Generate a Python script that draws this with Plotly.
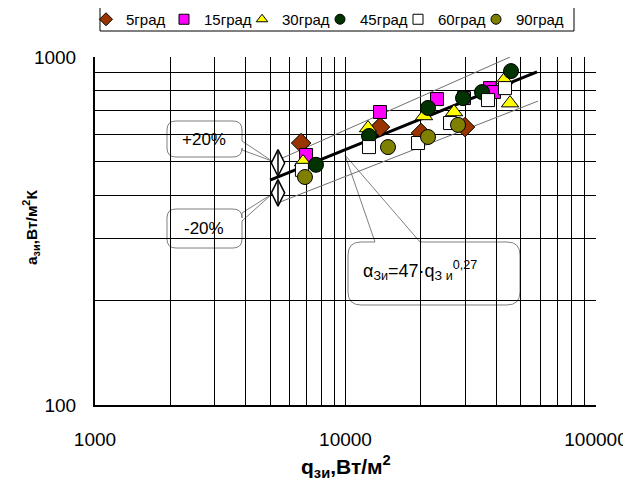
import plotly.graph_objects as go

# ---------------- data ----------------
series_names = ["5град", "15град", "30град", "45град", "60град", "90град"]

q_5 = [6650, 13730, 20020, 29990]
a_5 = [566, 629, 605, 629]

q_15 = [6960, 13730, 23190, 29720, 37740, 39160]
a_15 = [523, 695, 757, 762, 814, 793]

q_30 = [6770, 12300, 20580, 27120, 43000, 45370]
a_30 = [499, 625, 677, 695, 859, 737]

q_45 = [7625, 12410, 21350, 29450, 35060, 45790]
a_45 = [490, 593, 714, 762, 793, 911]

q_60 = [6700, 12410, 19480, 26140, 37060, 43320]
a_60 = [474, 551, 566, 646, 752, 814]

q_90 = [6890, 14780, 21350, 28130]
a_90 = [452, 551, 589, 638]

# correlation line and +/-20 % band
fit_q = [5000, 58150]
fit_a = [443, 906]
upper_q = [5380, 45400]
upper_a = [506, 1000]
lower_q = [5480, 58700]
lower_a = [383, 747]
band_marker_q = [5377, 5377]
band_marker_a = [496, 407]

# ticks
x_tickvals = [1000, 10000, 100000]
x_ticktext = ["1000", "10000", "100000"]
x_minorvals = [2000, 3000, 4000, 5000, 6000, 7000, 8000, 9000,
               20000, 30000, 40000, 50000, 60000, 70000, 80000, 90000]
y_tickvals = [100, 1000]
y_ticktext = ["100", "1000"]
y_minorvals = [200, 300, 400, 500, 600, 700, 800, 900]

# ---------------- styling ----------------
FONT = "Liberation Sans, Arial, sans-serif"
OFF = 8                      # page body margin of the browser
W, H = 631 - OFF, 483 - OFF
PL, PR, PT, PB = 95, 596, 57, 405   # plot area in window pixels
L, T = PL - OFF, PT - OFF
R, B = W - (PR - OFF), H - (PB - OFF)
PW, PH = PR - PL, PB - PT


def px(x):
    return (x - PL) / PW


def py(y):
    return (PB - y) / PH


def callout(x0, y0, x1, y1, r, edge, p0, p1, tip):
    d = "M {:.4f},{:.4f}".format(px(x0 + r), py(y0))

    def Lto(x, y):
        return " L {:.4f},{:.4f}".format(px(x), py(y))

    def Qto(cx, cy, x, y):
        return " Q {:.4f},{:.4f} {:.4f},{:.4f}".format(px(cx), py(cy), px(x), py(y))

    if edge == "top":
        d += Lto(p0, y0) + Lto(*tip) + Lto(p1, y0)
    d += Lto(x1 - r, y0) + Qto(x1, y0, x1, y0 + r)
    if edge == "right":
        d += Lto(x1, p0) + Lto(*tip) + Lto(x1, p1)
    d += Lto(x1, y1 - r) + Qto(x1, y1, x1 - r, y1)
    d += Lto(x0 + r, y1) + Qto(x0, y1, x0, y1 - r)
    d += Lto(x0, y0 + r) + Qto(x0, y0, x0 + r, y0) + " Z"
    return d


styles = [
    dict(symbol="diamond", color="#993300", size=15),
    dict(symbol="square", color="#FF00FF", size=13),
    dict(symbol="triangle-up", color="#FFFF00", size=15),
    dict(symbol="circle", color="#003300", size=15),
    dict(symbol="square", color="#FFFFFF", size=13),
    dict(symbol="circle", color="#808000", size=15),
]
data_q = [q_5, q_15, q_30, q_45, q_60, q_90]
data_a = [a_5, a_15, a_30, a_45, a_60, a_90]

fig = go.Figure()

# band and fit lines
fig.add_trace(go.Scatter(x=upper_q, y=upper_a, mode="lines",
                         line=dict(color="#707070", width=1), showlegend=False, hoverinfo="skip"))
fig.add_trace(go.Scatter(x=lower_q, y=lower_a, mode="lines",
                         line=dict(color="#707070", width=1), showlegend=False, hoverinfo="skip"))
fig.add_trace(go.Scatter(x=fit_q, y=fit_a, mode="lines",
                         line=dict(color="black", width=3), showlegend=False, hoverinfo="skip"))
fig.add_trace(go.Scatter(x=band_marker_q, y=band_marker_a, mode="markers",
                         marker=dict(symbol="diamond-tall", size=19, color="white",
                                     line=dict(color="black", width=1.5)),
                         showlegend=False, hoverinfo="skip"))
fig.add_trace(go.Scatter(x=band_marker_q, y=band_marker_a, mode="markers",
                         marker=dict(symbol="line-ns", size=16,
                                     line=dict(color="black", width=1.5)),
                         showlegend=False, hoverinfo="skip"))

# data series
for name, qv, av, st in zip(series_names, data_q, data_a, styles):
    fig.add_trace(go.Scatter(x=qv, y=av, mode="markers", name=name, showlegend=False,
                             marker=dict(symbol=st["symbol"], size=st["size"], color=st["color"],
                                         line=dict(color="black", width=1))))
# legend entries (smaller symbols)
for name, st in zip(series_names, styles):
    fig.add_trace(go.Scatter(x=[None], y=[None], mode="markers", name=name,
                             marker=dict(symbol=st["symbol"], size=10, color=st["color"],
                                         line=dict(color="black", width=1))))
# empty spacer entry so that the last legend text is not clipped
fig.add_trace(go.Scatter(x=[None], y=[None], mode="markers", name=" ",
                         marker=dict(size=1, color="rgba(0,0,0,0)"), hoverinfo="skip"))

shapes = [
    dict(type="path", xref="paper", yref="paper", layer="between",
         path=callout(167, 121, 242, 157, 9, "right", 141, 150, (272, 161)),
         fillcolor="white", line=dict(color="#7f7f7f", width=1)),
    dict(type="path", xref="paper", yref="paper", layer="between",
         path=callout(167, 209, 242, 248, 9, "right", 213, 221, (272, 194)),
         fillcolor="white", line=dict(color="#7f7f7f", width=1)),
    dict(type="path", xref="paper", yref="paper", layer="between",
         path=callout(348, 242, 520, 305, 13, "top", 375, 420, (345, 155)),
         fillcolor="white", line=dict(color="#7f7f7f", width=1)),
    # legend frame
    dict(type="rect", xref="paper", yref="paper", layer="above",
         x0=px(100), x1=px(574), y0=py(5), y1=py(31),
         line=dict(color="black", width=1), fillcolor="rgba(0,0,0,0)"),
]


def ann(x, y, text, size=17, **kw):
    d = dict(xref="paper", yref="paper", x=px(x), y=py(y), text=text, showarrow=False,
             xanchor="center", yanchor="middle",
             font=dict(family=FONT, size=size, color="black"))
    d.update(kw)
    return d


annotations = [
    ann(204, 139, "+20%"),
    ann(204, 229, "-20%"),
    ann(361, 270, "α<sub>Зи</sub>=47·q<sub>З и</sub><sup>0,27</sup>", size=18, xanchor="left"),
    ann(346, 466, "<b>q<sub>зи</sub>,Вт/м<sup>2</sup></b>", size=21),
    ann(31, 228, "<b>a<sub>зи</sub>,Вт/м<sup>2</sup>К</b>", size=15.5, textangle=-90),
]

fig.update_layout(
    width=W, height=H,
    margin=dict(l=L, r=R, t=T, b=B, pad=0, autoexpand=False),
    paper_bgcolor="white", plot_bgcolor="white",
    font=dict(family=FONT, size=15, color="black"),
    shapes=shapes, annotations=annotations,
    legend=dict(orientation="h", x=px(86), y=py(3), xanchor="left", yanchor="top",
                borderwidth=0, bgcolor="rgba(0,0,0,0)",
                font=dict(family=FONT, size=15, color="black"),
                itemwidth=30, tracegroupgap=0, entrywidth=33, entrywidthmode="pixels"),
)
fig.update_xaxes(type="log", range=[3, 5], tickvals=x_tickvals, ticktext=x_ticktext,
                 showgrid=True, gridcolor="black", gridwidth=1,
                 minor=dict(tickvals=x_minorvals, showgrid=True, gridcolor="black",
                            gridwidth=1, ticks=""),
                 showline=True, linecolor="black", linewidth=2, ticks="",
                 ticklabelstandoff=16, tickfont=dict(family=FONT, size=19, color="black"))
fig.update_yaxes(type="log", range=[2, 3], tickvals=y_tickvals, ticktext=y_ticktext,
                 showgrid=True, gridcolor="black", gridwidth=1,
                 minor=dict(tickvals=y_minorvals, showgrid=True, gridcolor="black",
                            gridwidth=1, ticks=""),
                 showline=True, linecolor="black", linewidth=2, ticks="",
                 ticklabelstandoff=13, tickfont=dict(family=FONT, size=19, color="black"))

fig.write_html("out.html")
